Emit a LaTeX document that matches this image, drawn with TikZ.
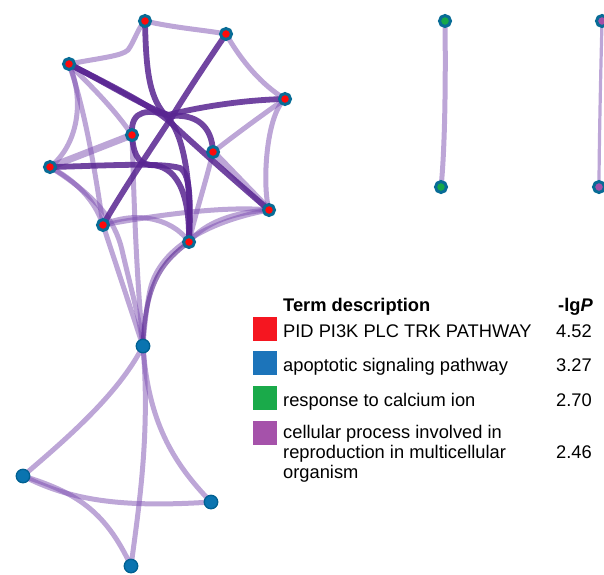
\documentclass[tikz,border=0pt]{standalone}
\usepackage{fontspec}
\setmainfont{Liberation Sans}
\pgfdeclarelayer{bg}
\pgfsetlayers{bg,main}
\definecolor{ring}{RGB}{8,108,150}
\definecolor{nred}{RGB}{255,10,10}
\definecolor{nblue}{RGB}{10,116,176}
\definecolor{nbluer}{RGB}{0,96,145}
\definecolor{ngreen}{RGB}{22,168,74}
\definecolor{npurp}{RGB}{165,80,168}
\definecolor{edk}{RGB}{88,36,145}
\definecolor{elt}{RGB}{123,77,176}
\definecolor{sqred}{RGB}{245,22,32}
\definecolor{sqblue}{RGB}{28,116,186}
\definecolor{sqgreen}{RGB}{26,170,74}
\definecolor{sqpurp}{RGB}{165,82,170}
\tikzset{
  rn/.style={circle,fill=nred,draw=ring,line width=3pt,minimum size=11pt,inner sep=0pt},
  bn/.style={circle,fill=nblue,draw=nbluer,line width=1.3pt,minimum size=13.5pt,inner sep=0pt},
  gn/.style={circle,fill=ngreen,draw=ring,line width=3pt,minimum size=11pt,inner sep=0pt},
  pn/.style={circle,fill=npurp,draw=ring,line width=3pt,minimum size=11pt,inner sep=0pt},
  dk/.style={draw=edk,draw opacity=0.85,line width=5.8pt,line cap=round},
  md/.style={draw=edk,draw opacity=0.6,line width=4.5pt,line cap=round},
  lt/.style={draw=elt,draw opacity=0.5,line width=5pt,line cap=round},
  lw/.style={draw=elt,draw opacity=0.5,line width=7pt,line cap=round},
  sq/.style={minimum size=24pt,inner sep=0pt,anchor=center},
  txt/.style={font=\fontsize{18.3}{20}\selectfont,inner sep=0pt}
}
\begin{document}
\begin{tikzpicture}[x=1pt,y=-1pt]
\useasboundingbox (0,0) rectangle (604,574);
% cluster nodes
\node[rn] (A) at (145,21) {};
\node[rn] (B) at (226,34) {};
\node[rn] (C) at (69,64) {};
\node[rn] (D) at (285,99) {};
\node[rn] (E) at (132,135) {};
\node[rn] (F) at (213,152) {};
\node[rn] (G) at (50,167) {};
\node[rn] (H) at (269,210) {};
\node[rn] (I) at (103,225) {};
\node[rn] (J) at (189,242) {};
\node[bn] (K) at (143,346) {};
\node[bn] (L) at (23,476) {};
\node[bn] (M) at (211,502) {};
\node[bn] (N) at (131,566) {};
\node[gn] (G1) at (445,21) {};
\node[gn] (G2) at (441,187) {};
\node[pn] (P1) at (602,21) {};
\node[pn] (P2) at (599,187) {};
\begin{pgfonlayer}{bg}
% light edges
\path[lt] (A.center) .. controls (175,28) and (205,30) .. (B.center);
\path[lt] (C.center) .. controls (100,58) and (122,56) .. (128,50) .. controls (134,42) and (138,28) .. (A.center);
\path[lt] (B.center) .. controls (242,62) and (262,85) .. (D.center);
\path[lt] (D.center) .. controls (266,115) and (262,185) .. (H.center);
\path[lt] (C.center) .. controls (85,100) and (78,145) .. (G.center);
\path[lt] (G.center) .. controls (75,180) and (95,200) .. (I.center);
\path[lw] (G.center) -- (E.center);
\path[lt] (C.center) .. controls (95,90) and (115,110) .. (E.center);
\path[lt] (C.center) .. controls (85,110) and (95,170) .. (I.center);
\path[lt] (D.center) .. controls (255,120) and (235,135) .. (F.center);
\path[lw] (F.center) -- (H.center);
\path[lt] (F.center) .. controls (205,185) and (195,215) .. (J.center);
\path[lt] (I.center) .. controls (130,212) and (170,215) .. (J.center);
\path[lt] (I.center) .. controls (140,218) and (220,205) .. (H.center);
\path[lt] (H.center) .. controls (235,212) and (205,222) .. (J.center);
\path[lt] (H.center) .. controls (215,220) and (160,245) .. (150,290) .. controls (146,310) and (144,330) .. (K.center);
\path[lt] (E.center) .. controls (134,200) and (136,270) .. (K.center);
\path[lt] (I.center) -- (K.center);
\path[lt] (G.center) .. controls (95,195) and (115,220) .. (122,250) .. controls (130,285) and (140,320) .. (K.center);
\path[md] (J.center) .. controls (165,260) and (145,280) .. (K.center);
\path[lt] (K.center) .. controls (118,395) and (65,440) .. (L.center);
\path[lt] (K.center) .. controls (148,420) and (172,462) .. (M.center);
\path[lt] (K.center) .. controls (150,430) and (140,500) .. (N.center);
\path[lt] (L.center) .. controls (70,500) and (120,508) .. (M.center);
\path[lt] (L.center) .. controls (75,492) and (105,510) .. (N.center);
\path[lt] (G1.center) .. controls (446,100) and (444,160) .. (G2.center);
\path[lt,line width=3.2pt] (P1.center) .. controls (600,100) and (599,160) .. (P2.center);
% dark edges
\path[dk] (A.center) .. controls (146,75) and (150,100) .. (168,118) .. controls (184,135) and (192,185) .. (J.center);
\path[dk] (B.center) .. controls (205,65) and (185,95) .. (170,120) .. controls (150,150) and (120,195) .. (I.center);
\path[dk] (C.center) .. controls (110,85) and (150,105) .. (170,122) .. controls (200,150) and (240,185) .. (H.center);
\path[dk] (D.center) .. controls (240,100) and (195,108) .. (168,115) .. controls (150,110) and (130,108) .. (E.center);
\path[dk] (F.center) .. controls (212,125) and (195,114) .. (172,116) .. controls (150,110) and (110,85) .. (C.center);
\path[dk] (G.center) .. controls (100,166) and (160,162) .. (180,168) .. controls (192,175) and (190,210) .. (J.center);
\path[dk] (E.center) .. controls (133,150) and (136,163) .. (150,165) .. controls (175,165) and (190,190) .. (J.center);
\end{pgfonlayer}
% legend
\node[txt,anchor=base west] (hd) at (283,311) {\textbf{Term description}};
\node[txt,anchor=base east] (hp) at (593,311) {\textbf{-lg\textit{P}}};
\node[sq,fill=sqred] (s1) at (265,328.5) {};
\node[sq,fill=sqblue] (s2) at (265,363) {};
\node[sq,fill=sqgreen] (s3) at (265,397.5) {};
\node[sq,fill=sqpurp] (s4) at (265,433) {};
\node[txt,anchor=base west] (t1) at (283,337) {PID PI3K PLC TRK PATHWAY};
\node[txt,anchor=base west] (t2) at (283,371.5) {apoptotic signaling pathway};
\node[txt,anchor=base west] (t3) at (283,406.5) {response to calcium ion};
\node[txt,anchor=base west] (t4a) at (283,438) {cellular process involved in};
\node[txt,anchor=base west] (t4b) at (283,458) {reproduction in multicellular};
\node[txt,anchor=base west] (t4c) at (283,478) {organism};
\node[txt,anchor=base east] (v1) at (592,337) {4.52};
\node[txt,anchor=base east] (v2) at (592,371.5) {3.27};
\node[txt,anchor=base east] (v3) at (592,406.5) {2.70};
\node[txt,anchor=base east] (v4) at (592,458) {2.46};
\end{tikzpicture}
\end{document}
